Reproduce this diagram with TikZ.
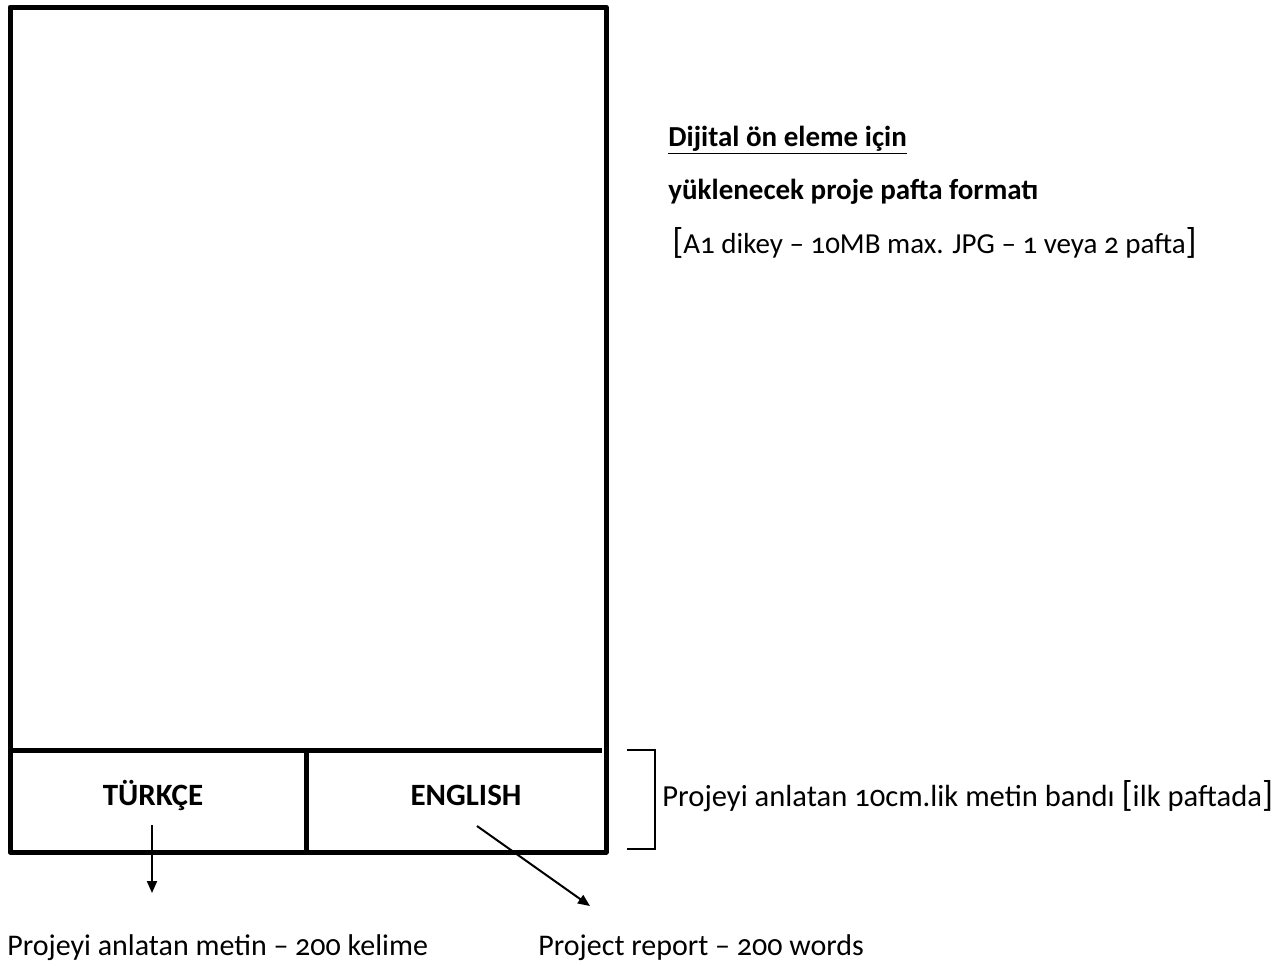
\documentclass[tikz,border=0pt]{standalone}
\usepackage{fontspec}
\setmainfont{Carlito}[Numbers=OldStyle]
\usetikzlibrary{arrows.meta}
\newcommand{\bigbr}[1]{{\fontsize{18}{18}\selectfont #1}}
\tikzset{
  frame/.style={line width=2.5pt, line join=round},
  bracketline/.style={line width=1pt},
  pointer/.style={line width=1pt, -{Triangle[length=6pt,width=5pt]}},
  txt/.style={font=\fontsize{14.5}{16}\selectfont, inner sep=0pt, anchor=base west},
  note/.style={font=\fontsize{15}{17}\selectfont, inner sep=0pt, anchor=base west},
  lang/.style={font=\fontsize{15.5}{17}\selectfont\bfseries, inner sep=0pt, anchor=base}
}
\begin{document}
\begin{tikzpicture}[x=0.5pt,y=-0.5pt]

			\useasboundingbox (0,0) rectangle (1274,965);

			\draw [frame] (10,7) rectangle (606,852);
			\draw [frame] (10,750) -- (602,750);
			\draw [frame] (306,750) -- (306,852);

			\node [lang] (tr) at (153,805) {TÜRKÇE};
			\node [lang] (en) at (466,805) {ENGLISH};

			\node [txt] (title) at (668,146) {\textbf{\underline{Dijital ön eleme için}}};
			\node [txt] (subtitle) at (668,199) {\textbf{yüklenecek proje pafta formatı}};
			\node [txt] (spec) at (672,253) {\bigbr{[}A1 dikey – 10MB max. JPG – 1 veya 2 pafta\bigbr{]}};

			\draw [bracketline] (627,750) -- (655,750) -- (655,849) -- (627,849);
			\node [txt, font=\fontsize{15.3}{17}\selectfont] (band) at (662,806) {Projeyi anlatan 10cm.lik metin bandı \bigbr{[}ilk paftada\bigbr{]}};

			\node [note] (trnote) at (7,955) {Projeyi anlatan metin – 200 kelime};
			\node [note] (ennote) at (538,955) {Project report – 200 words};

			\coordinate (trtail) at (152,825);
			\coordinate (trhead) at (152,893);
			\coordinate (entail) at (477,826);
			\coordinate (enhead) at (590,906);
			\draw [pointer] (trtail) -- (trhead);
			\draw [pointer] (entail) -- (enhead);
		\end{tikzpicture}
\end{document}
